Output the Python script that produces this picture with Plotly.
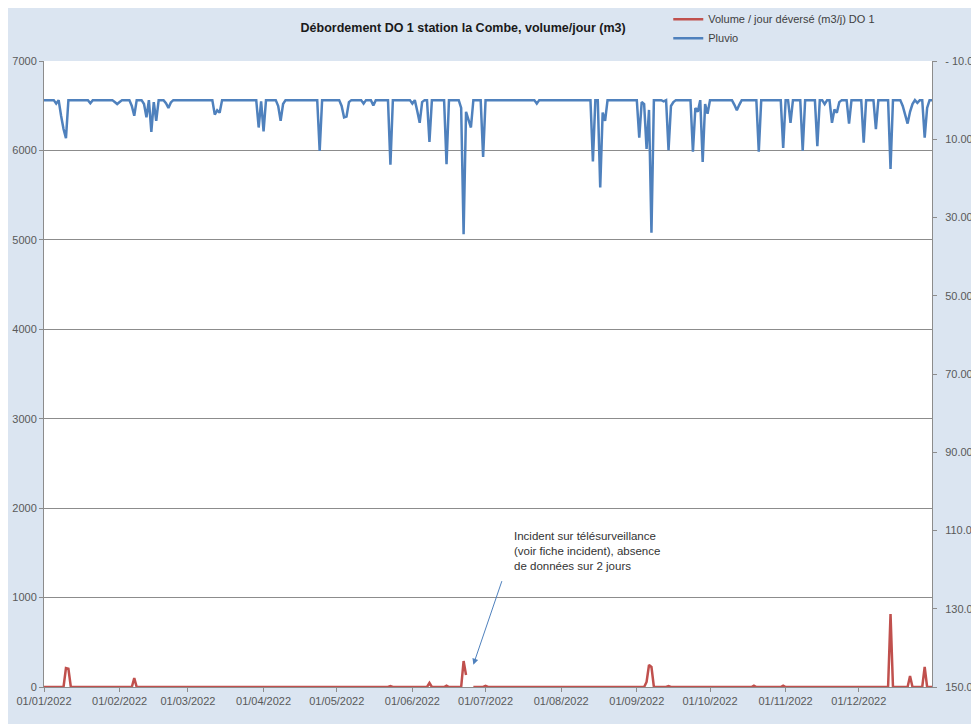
import pandas as pd
import plotly.graph_objs as go

# rain (mm/day), read off the right (reversed) axis; days not listed are 0
pluvio_dates = ["2022-01-06", "2022-01-08", "2022-01-09", "2022-01-10", "2022-01-20",
                "2022-01-30", "2022-01-31", "2022-02-01", "2022-02-06", "2022-02-07",
                "2022-02-11", "2022-02-12", "2022-02-14", "2022-02-15", "2022-02-16",
                "2022-02-20", "2022-02-21", "2022-02-22", "2022-03-12", "2022-03-13",
                "2022-03-14", "2022-03-30", "2022-03-31", "2022-04-01", "2022-04-07",
                "2022-04-08", "2022-04-09", "2022-04-24", "2022-05-03", "2022-05-04",
                "2022-05-05", "2022-05-06", "2022-05-12", "2022-05-16", "2022-05-23",
                "2022-06-01", "2022-06-03", "2022-06-04", "2022-06-05", "2022-06-08",
                "2022-06-15", "2022-06-21", "2022-06-22", "2022-06-23", "2022-06-24",
                "2022-06-25", "2022-06-30", "2022-07-22", "2022-08-14", "2022-08-17",
                "2022-08-18", "2022-08-19", "2022-09-02", "2022-09-03", "2022-09-04",
                "2022-09-05", "2022-09-06", "2022-09-07", "2022-09-12", "2022-09-14",
                "2022-09-15", "2022-09-16", "2022-09-24", "2022-09-25", "2022-09-26",
                "2022-09-28", "2022-09-29", "2022-09-30", "2022-10-11", "2022-10-12",
                "2022-10-13", "2022-10-21", "2022-10-31", "2022-11-03", "2022-11-08",
                "2022-11-14", "2022-11-17", "2022-11-20", "2022-11-21", "2022-11-22",
                "2022-11-23", "2022-11-27", "2022-12-03", "2022-12-08", "2022-12-14",
                "2022-12-19", "2022-12-20", "2022-12-21", "2022-12-22", "2022-12-23",
                "2022-12-25", "2022-12-28", "2022-12-29"]
pluvio_mm = [0.9, 4.0, 7.4, 9.7, 0.8,
             0.5, 1.0, 0.5, 1.5, 4.0,
             1.0, 4.4, 8.1, 0.5, 5.3,
             0.8, 2.0, 0.6, 3.7, 2.6,
             3.2, 7.0, 0.3, 8.0, 1.5,
             5.3, 1.0, 13.0, 1.5, 4.4,
             4.2, 0.5, 0.9, 1.4, 16.5,
             0.9, 2.8, 5.8, 0.5, 10.7,
             16.4, 2.0, 34.3, 3.0, 5.0,
             7.0, 14.5, 0.9, 15.7, 22.3,
             3.2, 5.3, 9.6, 0.5, 1.0,
             12.5, 2.5, 33.9, 0.3, 12.8,
             1.5, 0.5, 13.2, 2.0, 3.0,
             15.8, 1.0, 3.5, 1.2, 2.6,
             1.2, 13.2, 12.2, 5.8, 12.9,
             11.8, 1.0, 5.8, 2.4, 3.2,
             0.5, 6.0, 10.9, 7.4, 17.6,
             1.5, 3.5, 6.0, 3.0, 1.0,
             0.7, 9.6, 2.0]

# overflow volume (m3/day); days not listed are 0
volume_dates = ["2022-01-10", "2022-01-11", "2022-02-07", "2022-05-23", "2022-06-08",
                "2022-06-15", "2022-06-22", "2022-06-23", "2022-07-01", "2022-09-05",
                "2022-09-06", "2022-09-07", "2022-09-14", "2022-09-23", "2022-10-19",
                "2022-10-31", "2022-12-14", "2022-12-22", "2022-12-28"]
volume_m3 = [212, 205, 100, 10, 45,
             15, 290, 134, 12, 56,
             246, 224, 10, 8, 15,
             15, 816, 123, 224]
# telemetry incident: no data
missing_dates = ["2022-06-24", "2022-06-25"]

right_ticks = [-10, 10, 30, 50, 70, 90, 110, 130, 150]
right_labels = ["- 10.00", "10.00", "30.00", "50.00", "70.00", "90.00", "110.00", "130.00", "150.00"]

days = pd.date_range("2022-01-01", "2022-12-31", freq="D")
pluvio = pd.Series(0.0, index=days)
pluvio.loc[pd.to_datetime(pluvio_dates)] = pluvio_mm
volume = pd.Series(0.0, index=days)
volume.loc[pd.to_datetime(volume_dates)] = volume_m3
volume.loc[pd.to_datetime(missing_dates)] = None

BG = "#dbe5f1"
GRID = "#8c8c8c"
TXT = "#595959"
FONT = "Liberation Sans"

fig = go.Figure()
fig.add_trace(go.Scatter(x=days, y=volume, mode="lines", name="Volume / jour déversé (m3/j) DO 1",
                         line=dict(color="#c0504d", width=2.5), connectgaps=False))
fig.add_trace(go.Scatter(x=days, y=pluvio, mode="lines", name="Pluvio", yaxis="y2",
                         line=dict(color="#4f81bd", width=2.5)))

fig.add_annotation(x="2022-06-26", y=250, xref="x", yref="y", text="", showarrow=True,
                   ax=29, ay=-85, arrowhead=2, arrowsize=1.2, arrowwidth=1, arrowcolor="#4f81bd")
fig.add_annotation(x="2022-07-12", y=1780, xref="x", yref="y", xanchor="left", yanchor="top",
                   align="left", showarrow=False,
                   text="Incident sur télésurveillance<br>(voir fiche incident), absence<br>de données sur 2 jours",
                   font=dict(family=FONT, size=11.5, color="#333333"))

# the page keeps an 8px body margin, so the figure is sized to end at the window edge
fig.update_layout(
    width=971, height=716,
    margin=dict(l=36, r=47, t=53, b=37, autoexpand=False),
    paper_bgcolor=BG, plot_bgcolor="white",
    font=dict(family=FONT, size=11, color=TXT),
    title=dict(text="<b>Débordement DO 1 station la Combe, volume/jour (m3)</b>",
               xref="paper", x=0.472, xanchor="center", yref="container", y=0.973, yanchor="middle",
               font=dict(family=FONT, size=12.5, color="#1a1a1a")),
    legend=dict(x=0.703, y=1.09, xanchor="left", yanchor="top", bgcolor="rgba(0,0,0,0)",
                font=dict(family=FONT, size=11, color="#404040"), itemwidth=30, tracegroupgap=0),
    showlegend=True,
    xaxis=dict(range=["2022-01-01", "2022-12-31"], tick0="2022-01-01", dtick="M1",
               tickformat="%d/%m/%Y", ticks="outside", ticklen=4, tickcolor=GRID,
               showgrid=False, showline=True, linecolor=GRID, zeroline=False, tickangle=0,
               automargin=False, tickfont=dict(size=11, color=TXT)),
    yaxis=dict(range=[0, 7000], dtick=1000, showgrid=True, gridcolor=GRID, gridwidth=1,
               ticks="outside", ticklen=4, tickcolor=GRID, showline=True, linecolor=GRID,
               zeroline=False, automargin=False, tickfont=dict(size=11, color=TXT)),
    yaxis2=dict(overlaying="y", side="right", range=[150, -10], tickvals=right_ticks,
                ticktext=right_labels, showgrid=False, ticks="outside", ticklen=4,
                tickcolor=GRID, showline=True, linecolor=GRID, zeroline=False,
                automargin=False, ticklabelstandoff=6, tickfont=dict(size=11, color=TXT)),
)

fig.write_html("out.html")
